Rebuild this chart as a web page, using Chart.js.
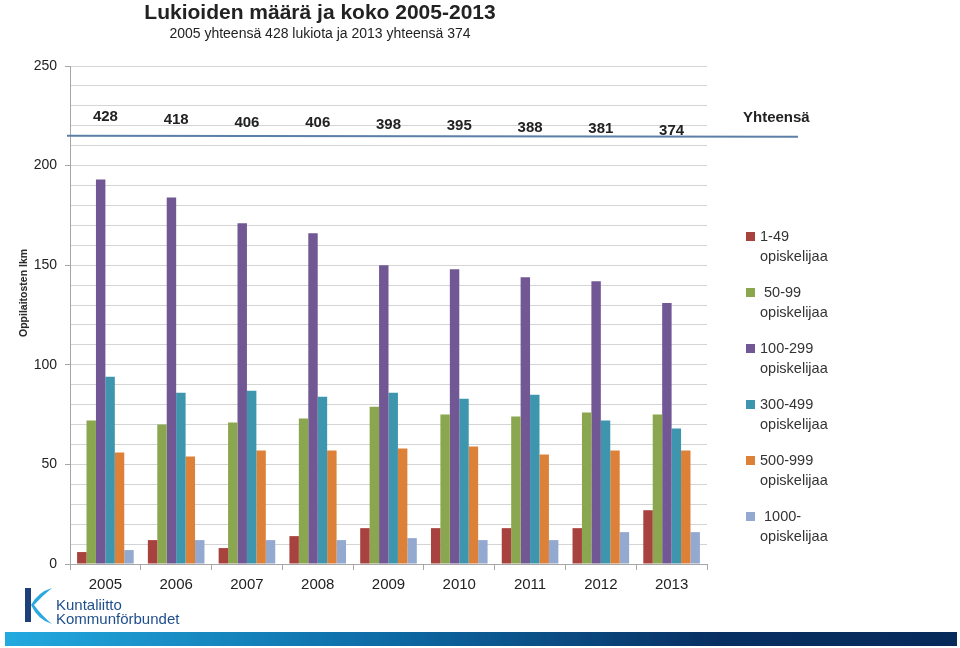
<!DOCTYPE html>
<html>
<head>
<meta charset="utf-8">
<script src="https://cdn.jsdelivr.net/npm/chart.js@4.4.1/dist/chart.umd.min.js"></script>
<style>
  html, body { margin: 0; padding: 0; background: #fff; }
  #wrap { position: relative; width: 960px; height: 648px; font-family: "Liberation Sans", Arial, sans-serif; color: #222; }
  #c { position: absolute; left: 0; top: 0; }
  .title { position: absolute; left: 0; width: 640px; text-align: center; }
  #t1 { top: 0; font-size: 21px; font-weight: bold; line-height: 24px; }
  #t2 { top: 24px; font-size: 14px; line-height: 18px; }
  #ytitle { position: absolute; left: 23px; top: 293px; transform: translate(-50%, -50%) rotate(-90deg); font-size: 10.5px; font-weight: bold; white-space: nowrap; }
  #sum { position: absolute; left: 743px; top: 107px; font-size: 15px; font-weight: bold; line-height: 20px; }
  #legend { position: absolute; left: 746px; top: 226px; }
  .item { position: relative; height: 56px; font-size: 14.5px; line-height: 20px; color: #333; }
  .item .box { position: absolute; left: 0; top: 5.5px; width: 9px; height: 9px; }
  .item .txt { position: absolute; left: 14px; top: 0; white-space: pre; }
  #bar { position: absolute; left: 5px; top: 632px; width: 952px; height: 14px; background: linear-gradient(to right, #22aadf, #0d6aa5 40%, #082f62 75%, #062a5a); }
  #logo { position: absolute; left: 0; top: 580px; }
</style>
</head>
<body>
<div id="wrap">
  <canvas id="c" width="960" height="648"></canvas>
  <div class="title" id="t1">Lukioiden määrä ja koko 2005-2013</div>
  <div class="title" id="t2">2005 yhteensä 428 lukiota ja 2013 yhteensä 374</div>
  <div id="ytitle">Oppilaitosten lkm</div>
  <div id="sum">Yhteensä</div>
  <div id="legend"></div>
  <svg id="logo" width="200" height="50">
    <rect x="25" y="8" width="6" height="34" fill="#1d3f7a"/>
    <path d="M31 25 Q38 12 52 8 Q42 16 34 25 Q42 36 52 44 Q38 40 31 25 Z" fill="#2aa8df"/>
    <text x="56" y="30" font-family="Liberation Sans, Arial" font-size="15" fill="#1f4e8c">Kuntaliitto</text>
    <text x="56" y="44" font-family="Liberation Sans, Arial" font-size="15" fill="#1f4e8c">Kommunförbundet</text>
  </svg>
  <div id="bar"></div>
</div>
<script>
// vuodet ja kokoluokat
var years = ['2005', '2006', '2007', '2008', '2009', '2010', '2011', '2012', '2013'];
var luokat = ['1-49\nopiskelijaa', ' 50-99\nopiskelijaa', '100-299\nopiskelijaa', '300-499\nopiskelijaa', '500-999\nopiskelijaa', ' 1000-\nopiskelijaa'];
var alle50 = [6, 12, 8, 14, 18, 18, 18, 18, 27];
var v50_99 = [72, 70, 71, 73, 79, 75, 74, 76, 75];
var v100_299 = [193, 184, 171, 166, 150, 148, 144, 142, 131];
var v300_499 = [94, 86, 87, 84, 86, 83, 85, 72, 68];
var v500_999 = [56, 54, 57, 57, 58, 59, 55, 57, 57];
var yli1000 = [7, 12, 12, 12, 13, 12, 12, 16, 16];
var yhteensa = [428, 418, 406, 406, 398, 395, 388, 381, 374];
var yTicks = [0, 50, 100, 150, 200, 250];

var colors = ['#a8423f', '#8aa64e', '#715794', '#3d96ae', '#dd8139', '#93a9cf'];
var series = [alle50, v50_99, v100_299, v300_499, v500_999, yli1000];

var datasets = series.map(function (d, i) {
    return {
        label: luokat[i].replace('\n', ' '),
        data: d,
        backgroundColor: colors[i],
        borderWidth: 0,
        categoryPercentage: 0.8,
        barPercentage: 1.0,
        yAxisID: 'y'
    };
});
// yhteensä-luvut piilotetulla akselilla
datasets.push({
    type: 'line',
    label: 'Yhteensä',
    data: yhteensa,
    yAxisID: 'y2',
    showLine: false,
    pointRadius: 0,
    borderColor: 'transparent'
});

// oma selite
var leg = document.getElementById('legend');
luokat.forEach(function (l, i) {
    var it = document.createElement('div');
    it.className = 'item';
    it.innerHTML = '<div class="box" style="background:' + colors[i] + '"></div><div class="txt">' + l + '</div>';
    leg.appendChild(it);
});

var totalsPlugin = {
    id: 'totals',
    afterDatasetsDraw: function (chart) {
        var c = chart.ctx;
        var meta = chart.getDatasetMeta(chart.data.datasets.length - 1);
        var ys = chart.scales.y;
        var area = chart.chartArea;
        c.save();
        // sininen viiva
        var ly = ys.getPixelForValue(215);
        c.strokeStyle = '#5b7fa6';
        c.lineWidth = 2;
        c.beginPath();
        c.moveTo(area.left - 3, ly);
        c.lineTo(area.right + 91, ly + 1);
        c.stroke();
        c.font = 'bold 15px "Liberation Sans", Arial';
        c.fillStyle = '#222';
        c.textAlign = 'center';
        c.textBaseline = 'middle';
        meta.data.forEach(function (p, i) {
            c.fillText(String(yhteensa[i]), p.x, p.y);
        });
        c.restore();
    }
};

var ctx = document.getElementById('c').getContext('2d');
Chart.defaults.font.family = '"Liberation Sans", Arial, sans-serif';
Chart.defaults.color = '#222';

var myChart = new Chart(ctx, {
    type: 'bar',
    data: { labels: years, datasets: datasets },
    options: {
        responsive: false,
        animation: false,
        layout: { padding: { left: 0, top: 66, right: 253, bottom: 48 } },
        plugins: {
            legend: { display: false },
            tooltip: { enabled: false }
        },
        scales: {
            x: {
                grid: { display: true, drawOnChartArea: false, offset: true, tickLength: 6, color: '#a6a6a6' },
                border: { color: '#a6a6a6' },
                ticks: { font: { size: 15 }, padding: 6, color: '#222' }
            },
            y: {
                min: 0,
                max: 250,
                afterFit: function (s) { s.width = 70; },
                ticks: {
                    stepSize: 10,
                    autoSkip: false,
                    padding: 8,
                    font: { size: 14 },
                    color: '#222',
                    callback: function (v) { return yTicks.indexOf(v) >= 0 ? v : ''; }
                },
                grid: {
                    color: '#d4d4d4',
                    tickLength: 5,
                    tickColor: function (c) { return yTicks.indexOf(c.tick.value) >= 0 ? '#a6a6a6' : 'transparent'; }
                },
                border: { color: '#a6a6a6' }
            },
            y2: {
                display: false,
                min: -1298,
                max: 625
            }
        }
    },
    plugins: [totalsPlugin]
});
</script>
</body>
</html>
